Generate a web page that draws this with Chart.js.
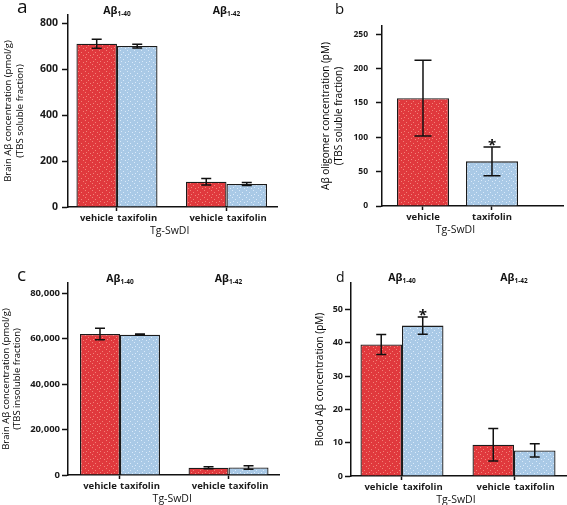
<!DOCTYPE html>
<html><head><meta charset="utf-8">
<script src="https://cdn.jsdelivr.net/npm/chart.js@4.4.1/dist/chart.umd.min.js"></script>
<style>
html,body{margin:0;padding:0;background:#fff;}
#fig{position:relative;width:567px;height:505px;overflow:hidden;background:#fff;}
canvas{position:absolute;}
</style></head><body>
<div id="fig">
<canvas id="ca" style="left:0;top:0" width="288" height="242"></canvas>
<canvas id="cb" style="left:290px;top:0" width="277" height="242"></canvas>
<canvas id="cc" style="left:0;top:250px" width="288" height="255"></canvas>
<canvas id="cd" style="left:290px;top:250px" width="277" height="255"></canvas>
</div>
<script>
// ---------- data ----------
const groupLabels = ['Aβ1-40', 'Aβ1-42'];
const treatments = ['vehicle', 'taxifolin'];
const xTitle = 'Tg-SwDI';

// a: brain Aβ, TBS soluble (pmol/g)
const aVehicle = [710, 110];
const aVehicleErr = [20, 14];
const aTaxifolin = [700, 100];
const aTaxifolinErr = [8, 7];
const aTicks = [0, 200, 400, 600, 800];

// b: Aβ oligomer (pM)
const bValues = [157, 65];
const bErr = [55, 21];
const bSig = [false, true];
const bTicks = [0, 50, 100, 150, 200, 250];

// c: brain Aβ, TBS insoluble (pmol/g)
const cVehicle = [62000, 3200];
const cVehicleErr = [2500, 400];
const cTaxifolin = [61700, 3300];
const cTaxifolinErr = [300, 800];
const cTicks = [0, 20000, 40000, 60000, 80000];

// d: blood Aβ (pM)
const dVehicle = [39.5, 9.4];
const dVehicleErr = [3, 4.9];
const dTaxifolin = [45.2, 7.7];
const dTaxifolinErr = [2.6, 2];
const dTaxifolinSig = [true, false];
const dTicks = [0, 10, 20, 30, 40, 50];

// ---------- styling ----------
const FONT = '"Open Sans", Lato, "DejaVu Sans", sans-serif';
Chart.defaults.font.family = FONT;
Chart.defaults.color = '#1a1a1a';

function speckle(base, dot) {
  const c = document.createElement('canvas');
  c.width = 7; c.height = 7;
  const g = c.getContext('2d');
  g.fillStyle = base; g.fillRect(0, 0, 7, 7);
  g.fillStyle = dot;
  g.fillRect(1, 1, 1, 1); g.fillRect(4, 3, 1, 1); g.fillRect(2, 5, 1, 1); g.fillRect(6, 6, 1, 1);
  return g.createPattern(c, 'repeat');
}
const RED = speckle('#e0393d', 'rgba(255,180,160,0.6)');
const BLUE = speckle('#a9c9e6', 'rgba(230,242,255,0.8)');
const INK = '#111';

const panelPlugin = {
  id: 'panel',
  afterDatasetsDraw(chart, args, o) {
    const ctx = chart.ctx, ys = chart.scales.y, xs = chart.scales.x, ca = chart.chartArea;
    ctx.save();
    chart.data.datasets.forEach((ds, di) => {
      const meta = chart.getDatasetMeta(di);
      meta.data.forEach((el, j) => {
        const v = ds.data[j].y, e = ds.err[j];
        const x = el.x;
        const yt = ys.getPixelForValue(v + e), yb = ys.getPixelForValue(v - e);
        ctx.strokeStyle = INK; ctx.lineWidth = 1.5;
        ctx.beginPath();
        ctx.moveTo(x, yt); ctx.lineTo(x, yb);
        ctx.moveTo(x - o.cap / 2, yt); ctx.lineTo(x + o.cap / 2, yt);
        ctx.moveTo(x - o.cap / 2, yb); ctx.lineTo(x + o.cap / 2, yb);
        ctx.stroke();
        if (ds.sig && ds.sig[j]) {
          ctx.fillStyle = INK;
          ctx.font = 'bold 15px ' + FONT;
          ctx.textAlign = 'center'; ctx.textBaseline = 'alphabetic';
          ctx.fillText('*', x, yt + 3);
        }
        ctx.fillStyle = '#1a1a1a';
        ctx.font = 'bold 9.5px ' + FONT;
        ctx.textAlign = 'center'; ctx.textBaseline = 'alphabetic';
        ctx.fillText(ds.barLabels[j], x, ca.bottom + 14);
      });
    });
    // x title
    const n = chart.data.datasets[0].data.length;
    ctx.font = '10.5px ' + FONT;
    ctx.fillStyle = '#111';
    ctx.fillText(xTitle, xs.getPixelForValue((n - 1) / 2) - 2, ca.bottom + 26.5);
    // group titles with subscript
    if (o.groups) {
      o.groups.forEach((g, i) => {
        const m = g.match(/^(Aβ)(.*)$/);
        const main = m[1], sub = m[2];
        ctx.font = 'bold 10.5px ' + FONT;
        const w1 = ctx.measureText(main).width;
        ctx.font = 'bold 6.5px ' + FONT;
        const w2 = ctx.measureText(sub).width;
        const cx = xs.getPixelForValue(i);
        const x0 = cx - (w1 + w2) / 2;
        const by = ca.top - 1 + (o.groupDy || 0);
        ctx.textAlign = 'left';
        ctx.font = 'bold 10.5px ' + FONT;
        ctx.fillText(main, x0, by);
        ctx.font = 'bold 6.5px ' + FONT;
        ctx.fillText(sub, x0 + w1, by + 1.5);
      });
    }
    // panel letter
    ctx.textAlign = 'left';
    ctx.font = o.letterFont + ' ' + FONT;
    ctx.fillStyle = '#111';
    ctx.fillText(o.letter, o.letterX, o.letterY);
    ctx.restore();
  }
};

function makeChart(id, cfg) {
  const yTickVals = cfg.ticks;
  new Chart(document.getElementById(id), {
    type: 'bar',
    data: { datasets: cfg.datasets },
    options: {
      responsive: false, animation: false, events: [],
      layout: { padding: cfg.padding },
      plugins: {
        legend: { display: false }, tooltip: { enabled: false },
        panel: cfg.panel
      },
      scales: {
        x: {
          type: 'linear', min: cfg.xMin, max: cfg.xMax, offset: false,
          grid: { offset: false, drawOnChartArea: false, drawTicks: true, tickLength: 4, tickWidth: 1.5, tickColor: INK },
          border: { color: INK, width: 1.5 },
          ticks: { display: false },
          afterBuildTicks: s => { s.ticks = cfg.xTicks.map(v => ({ value: v })); },
          afterFit: s => { s.height = cfg.xH; }
        },
        y: {
          type: 'linear', min: 0, max: cfg.yMax,
          grid: { drawOnChartArea: false, drawTicks: true, tickLength: 6, tickWidth: 1.5, tickColor: INK },
          border: { color: INK, width: 1.5 },
          ticks: {
            includeBounds: false, stepSize: cfg.step, padding: cfg.tickPad,
            font: { size: cfg.tickSize, weight: 'bold' }, color: '#1a1a1a',
            callback: v => yTickVals.includes(v) ? v.toLocaleString('en-US') : ''
          },
          title: {
            display: true, text: cfg.yTitle, color: '#000',
            font: { size: cfg.yTitleSize, weight: 'normal', lineHeight: cfg.yTitleLH },
            padding: { top: cfg.yTitlePad, bottom: 0 }
          },
          afterBuildTicks: s => { s.ticks = yTickVals.map(v => ({ value: v })); },
          afterFit: s => { s.width = cfg.yW; }
        }
      }
    },
    plugins: [panelPlugin]
  });
}

function grouped(veh, vehErr, tax, taxErr, vehSig, taxSig, catPct) {
  const idx = veh.map((_, i) => i);
  return [
    { label: treatments[0], data: idx.map(i => ({ x: i, y: veh[i] })), err: vehErr, sig: vehSig,
      barLabels: idx.map(() => treatments[0]),
      backgroundColor: RED, borderColor: '#1b1b1b', borderWidth: 1.3, barPercentage: 1, categoryPercentage: catPct },
    { label: treatments[1], data: idx.map(i => ({ x: i, y: tax[i] })), err: taxErr, sig: taxSig,
      barLabels: idx.map(() => treatments[1]),
      backgroundColor: BLUE, borderColor: '#1b1b1b', borderWidth: 1.3, barPercentage: 1, categoryPercentage: catPct }
  ];
}

// a
makeChart('ca', {
  datasets: grouped(aVehicle, aVehicleErr, aTaxifolin, aTaxifolinErr, null, null, 0.74),
  padding: { left: 0, top: 15, right: 11, bottom: 0 }, yW: 68, xH: 35,
  xMin: -0.447, xMax: 1.461, xTicks: [0, 1],
  yMax: 835, step: 200, ticks: aTicks, tickPad: 4, tickSize: 10.5,
  yTitle: ['Brain Aβ concentration (pmol/g)', '(TBS soluble fraction)'], yTitleSize: 9.5, yTitleLH: 1.25, yTitlePad: 2,
  panel: { cap: 10, groups: groupLabels, letter: 'a', letterFont: '19px', letterX: 17, letterY: 13 }
});

// b
makeChart('cb', {
  datasets: [{
    label: 'oligomer', data: bValues.map((v, i) => ({ x: i, y: v })), err: bErr, sig: bSig,
    barLabels: treatments,
    backgroundColor: [RED, BLUE], borderColor: '#1b1b1b', borderWidth: 1.3, barPercentage: 1, categoryPercentage: 0.754
  }],
  padding: { left: 29, top: 26, right: 4, bottom: 0 }, yW: 63, xH: 36,
  xMin: -0.594, xMax: 2.029, xTicks: [0, 1],
  yMax: 262, step: 50, ticks: bTicks, tickPad: 8, tickSize: 8.5,
  yTitle: ['Aβ oligomer concentration (pM)', '(TBS soluble fraction)'], yTitleSize: 10, yTitleLH: 1.35, yTitlePad: 0,
  panel: { cap: 17, groups: null, letter: 'b', letterFont: '15px', letterX: 45, letterY: 14 }
});

// c
makeChart('cc', {
  datasets: grouped(cVehicle, cVehicleErr, cTaxifolin, cTaxifolinErr, null, null, 0.737),
  padding: { left: 0, top: 33, right: 9, bottom: 0 }, yW: 68, xH: 30,
  xMin: -0.479, xMax: 1.465, xTicks: [0, 1],
  yMax: 84400, step: 20000, ticks: cTicks, tickPad: 2, tickSize: 9.5,
  yTitle: ['Brain Aβ concentration (pmol/g)', '(TBS insoluble fraction)'], yTitleSize: 9.5, yTitleLH: 1.15, yTitlePad: 1,
  panel: { cap: 10, groups: groupLabels, letter: 'c', letterFont: '19px', letterX: 17, letterY: 31 }
});

// d
makeChart('cd', {
  datasets: grouped(dVehicle, dVehicleErr, dTaxifolin, dTaxifolinErr, null, dTaxifolinSig, 0.741),
  padding: { left: 24, top: 33, right: 0, bottom: 0 }, yW: 37, xH: 29,
  xMin: -0.455, xMax: 1.473, xTicks: [0, 1],
  yMax: 58, step: 10, ticks: dTicks, tickPad: 2, tickSize: 9,
  yTitle: 'Blood Aβ concentration (pM)', yTitleSize: 10, yTitleLH: 1.2, yTitlePad: 0,
  panel: { cap: 10, groups: groupLabels, groupDy: -1, letter: 'd', letterFont: '14px', letterX: 46, letterY: 32 }
});
</script>
</body></html>
